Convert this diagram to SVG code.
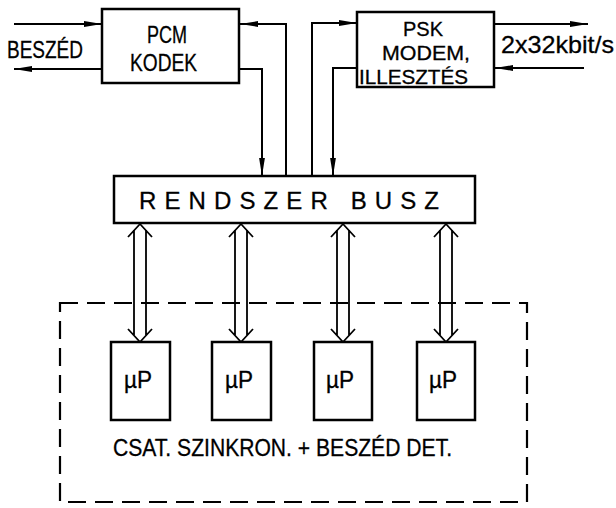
<svg xmlns="http://www.w3.org/2000/svg" width="616" height="508" viewBox="0 0 616 508">
<style>
.box{fill:#fff;stroke:#000;stroke-width:2.5}
.ln{fill:none;stroke:#000;stroke-width:2}
.dbl{fill:none;stroke:#000;stroke-width:1.8}
.dash{fill:none;stroke:#000;stroke-width:2.2;stroke-dasharray:18 9}
text{font-family:"Liberation Sans","DejaVu Sans",sans-serif;fill:#000;font-size:24px;stroke:#000;stroke-width:0.3}
.sm{font-size:20px}
</style>
<defs>
<marker id="ah" markerUnits="userSpaceOnUse" markerWidth="20" markerHeight="8" refX="18" refY="3.5" orient="auto">
<path d="M0,0.6 L18,3.5 L0,6.4 z" fill="#000"/>
</marker>
</defs>
<rect width="616" height="508" fill="#fff"/>
<g id="connectors">
<path class="ln" d="M14,24 H102" marker-end="url(#ah)"/>
<path class="ln" d="M102,69 H14" marker-end="url(#ah)"/>
<path class="ln" d="M286,176 V24 H240" marker-end="url(#ah)"/>
<path class="ln" d="M239,69 H262 V176" marker-end="url(#ah)"/>
<path class="ln" d="M312,176 V23 H357" marker-end="url(#ah)"/>
<path class="ln" d="M357,68 H333 V176" marker-end="url(#ah)"/>
<path class="ln" d="M494,24 H588" marker-end="url(#ah)"/>
<path class="ln" d="M584,68 H495" marker-end="url(#ah)"/>
<g id="bus-links">
<path class="dbl" d="M134,230 V336 M146,230 V336 M128,237 L140,224 L152,237 M128,329 L140,342 L152,329"/>
<path class="dbl" d="M235,230 V336 M247,230 V336 M229,237 L241,224 L253,237 M229,329 L241,342 L253,329"/>
<path class="dbl" d="M337,230 V336 M349,230 V336 M331,237 L343,224 L355,237 M331,329 L343,342 L355,329"/>
<path class="dbl" d="M440,230 V336 M452,230 V336 M434,237 L446,224 L458,237 M434,329 L446,342 L458,329"/>
</g>
</g>
<g id="beszed-label"><text x="7" y="58" textLength="76" lengthAdjust="spacingAndGlyphs">BESZÉD</text></g>
<g id="pcm">
<rect class="box" x="102" y="9" width="137" height="74"/>
<text x="147" y="43" textLength="40" lengthAdjust="spacingAndGlyphs">PCM</text>
<text x="130" y="71" textLength="67" lengthAdjust="spacingAndGlyphs">KODEK</text>
</g>
<g id="psk">
<rect class="box" x="357" y="12" width="137" height="75"/>
<text class="sm" x="403" y="36" textLength="40" lengthAdjust="spacingAndGlyphs">PSK</text>
<text class="sm" x="382" y="60" textLength="88" lengthAdjust="spacingAndGlyphs">MODEM,</text>
<text class="sm" x="359" y="84" textLength="109" lengthAdjust="spacingAndGlyphs">ILLESZTÉS</text>
</g>
<g id="rate-label"><text x="501" y="53" textLength="113" lengthAdjust="spacingAndGlyphs">2x32kbit/s</text></g>
<g id="bus">
<rect class="box" x="114" y="176" width="361" height="47"/>
<text x="139" y="209" textLength="300" lengthAdjust="spacing">RENDSZER BUSZ</text>
</g>
<g id="group">
<rect class="dash" x="60" y="303" width="467" height="199"/>
<text x="113" y="456" textLength="339" lengthAdjust="spacingAndGlyphs">CSAT. SZINKRON. + BESZÉD DET.</text>
</g>
<g id="up1"><rect class="box" x="111" y="342" width="59" height="78"/><text x="124" y="388" textLength="28" lengthAdjust="spacingAndGlyphs">µP</text></g>
<g id="up2"><rect class="box" x="212" y="342" width="59" height="78"/><text x="225" y="388" textLength="28" lengthAdjust="spacingAndGlyphs">µP</text></g>
<g id="up3"><rect class="box" x="314" y="342" width="58" height="78"/><text x="326" y="388" textLength="28" lengthAdjust="spacingAndGlyphs">µP</text></g>
<g id="up4"><rect class="box" x="417" y="342" width="58" height="78"/><text x="429" y="388" textLength="28" lengthAdjust="spacingAndGlyphs">µP</text></g>
</svg>
